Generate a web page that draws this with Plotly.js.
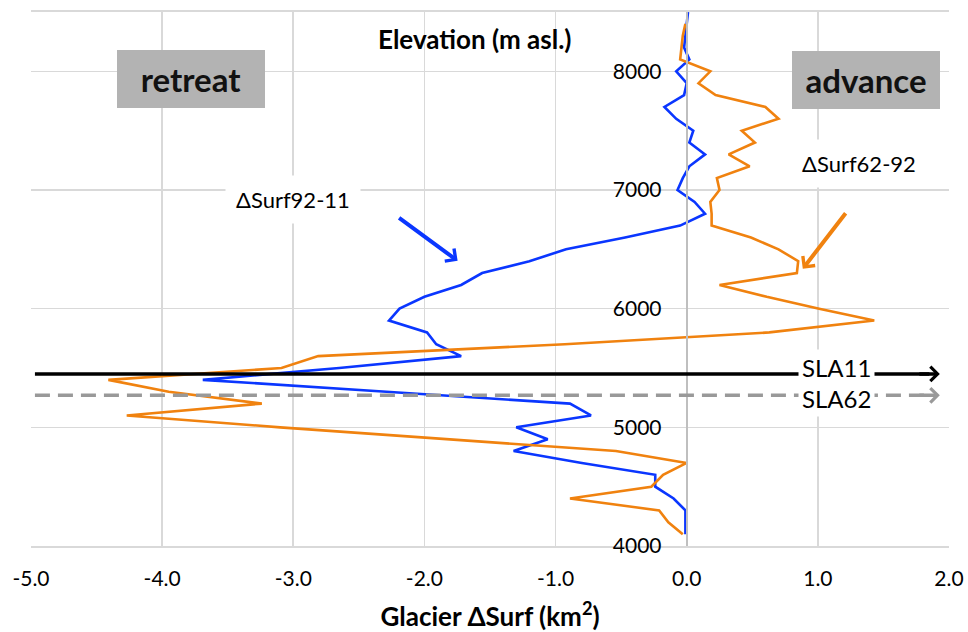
<!DOCTYPE html>
<html>
<head>
<meta charset="utf-8">
<script src="https://cdn.plot.ly/plotly-3.0.1.min.js"></script>
<style>html,body{margin:0;padding:0;background:#fff;}#chart{width:968px;height:632px;}</style>
</head>
<body>
<div id="chart"></div>
<script>
// Elevation bands (m asl.)
const blueElev = [8500,8400,8300,8200,8100,8000,7900,7800,7700,7600,7500,7400,7300,7200,7100,7000,6900,6800,6700,6600,6500,6400,6300,6200,6100,6000,5900,5800,5700,5600,5500,5400,5300,5200,5100,5000,4900,4800,4700,4600,4500,4400,4300,4200,4100];
// ΔSurf92-11 (km²)
const blueSurf = [0.01,0.00,-0.01,-0.02,0.02,-0.08,0.00,-0.02,-0.17,-0.08,0.05,0.02,0.14,0.02,-0.03,-0.07,0.06,0.14,-0.05,-0.47,-0.92,-1.20,-1.56,-1.72,-2.00,-2.19,-2.27,-1.98,-1.91,-1.72,-2.65,-3.69,-2.29,-0.89,-0.73,-1.30,-1.06,-1.32,-0.80,-0.24,-0.24,-0.10,-0.01,-0.01,-0.01];
const orangeElev = [8400,8300,8200,8100,8000,7900,7800,7700,7600,7500,7400,7300,7200,7100,7000,6900,6800,6700,6600,6500,6400,6300,6200,6100,6000,5900,5800,5700,5600,5500,5400,5300,5200,5100,5000,4900,4800,4700,4600,4500,4400,4300,4200,4100];
// ΔSurf62-92 (km²)
const orangeSurf = [-0.01,-0.03,-0.04,-0.05,0.18,0.09,0.22,0.60,0.70,0.42,0.52,0.32,0.48,0.23,0.25,0.18,0.19,0.19,0.49,0.70,0.85,0.84,0.25,0.61,1.01,1.43,0.63,-0.93,-2.81,-3.09,-4.41,-3.95,-3.24,-4.27,-3.10,-1.83,-0.54,0.00,-0.18,-0.27,-0.89,-0.21,-0.14,-0.03];
// Snow line altitudes
const slaNames = ['SLA11','SLA62'];
const slaElev = [5450, 5270];
const xTicks = [-5,-4,-3,-2,-1,0,1,2];
const xTickText = ['-5.0','-4.0','-3.0','-2.0','-1.0','0.0','1.0','2.0'];
const yTicks = [4000,5000,6000,7000,8000];

const FONT = 'Lato, "Open Sans", "DejaVu Sans", sans-serif';
const BLUE = '#0a36ff';
const ORANGE = '#f0820f';

const traces = [
  {x: blueSurf, y: blueElev, type: 'scatter', mode: 'lines', name: 'ΔSurf92-11',
   line: {color: BLUE, width: 2.6}, hoverinfo: 'x+y'},
  {x: orangeSurf, y: orangeElev, type: 'scatter', mode: 'lines', name: 'ΔSurf62-92',
   line: {color: ORANGE, width: 2.6}, hoverinfo: 'x+y'}
];

const xL = -4.97, xR = 1.93;

const shapes = [
  {type: 'line', xref: 'x', yref: 'y', x0: xL, x1: xR - 0.08, y0: slaElev[0], y1: slaElev[0],
   line: {color: '#000000', width: 3.5}},
  {type: 'line', xref: 'x', yref: 'y', x0: xL, x1: xR - 0.08, y0: slaElev[1], y1: slaElev[1],
   line: {color: '#999999', width: 3.5, dash: '15px,8px'}}
];

const annotations = [
  // SLA arrow heads
  {x: xR, y: slaElev[0], xref: 'x', yref: 'y', ax: -22, ay: 0, text: '', showarrow: true,
   arrowhead: 4, arrowsize: 0.8, arrowwidth: 3.5, arrowcolor: '#000000'},
  {x: xR, y: slaElev[1], xref: 'x', yref: 'y', ax: -22, ay: 0, text: '', showarrow: true,
   arrowhead: 4, arrowsize: 0.8, arrowwidth: 3.5, arrowcolor: '#999999'},
  // SLA labels
  {x: 1.14, y: slaElev[0] + 55, xref: 'x', yref: 'y', xanchor: 'center', yanchor: 'middle',
   text: slaNames[0], showarrow: false,
   font: {family: FONT, size: 24, color: '#000'}, bgcolor: '#ffffff', borderpad: 3},
  {x: 1.14, y: slaElev[1] - 25, xref: 'x', yref: 'y', xanchor: 'center', yanchor: 'middle',
   text: slaNames[1], showarrow: false,
   font: {family: FONT, size: 24, color: '#000'}, bgcolor: '#ffffff', borderpad: 3},
  // y axis title
  {x: 0.4837, y: 0.9495, xref: 'paper', yref: 'paper', xanchor: 'center', yanchor: 'middle',
   text: 'Elevation (m asl.)', showarrow: false,
   font: {family: FONT, size: 26, color: '#000', weight: 'bold'}},
  // retreat / advance boxes
  {x: 0.1743, y: 0.8746, xref: 'paper', yref: 'paper', xanchor: 'center', yanchor: 'middle',
   text: 'retreat', showarrow: false,
   font: {family: FONT, size: 33, color: '#111', weight: 'bold'},
   bgcolor: '#b3b3b3', width: 144, height: 54, borderpad: 2, borderwidth: 0},
  {x: 0.9096, y: 0.8728, xref: 'paper', yref: 'paper', xanchor: 'center', yanchor: 'middle',
   text: 'advance', showarrow: false,
   font: {family: FONT, size: 33, color: '#111', weight: 'bold'},
   bgcolor: '#b3b3b3', width: 144, height: 54, borderpad: 2, borderwidth: 0},
  // series labels
  {x: -3.005, y: 6917, xref: 'x', yref: 'y', xanchor: 'center', yanchor: 'middle',
   text: 'ΔSurf92-11', showarrow: false,
   font: {family: FONT, size: 22, color: '#000'}, bgcolor: '#ffffff', borderpad: 10},
  {x: 1.312, y: 7220, xref: 'x', yref: 'y', xanchor: 'center', yanchor: 'middle',
   text: 'ΔSurf62-92', showarrow: false,
   font: {family: FONT, size: 22, color: '#000'}, bgcolor: '#ffffff', borderpad: 10},
  // pointer arrows
  {x: -1.747, y: 6403, xref: 'x', yref: 'y', ax: -60, ay: -44, text: '', showarrow: true,
   arrowhead: 4, arrowsize: 0.75, arrowwidth: 4, arrowcolor: BLUE},
  {x: 0.885, y: 6336, xref: 'x', yref: 'y', ax: 44, ay: -57, text: '', showarrow: true,
   arrowhead: 4, arrowsize: 0.75, arrowwidth: 4, arrowcolor: ORANGE}
];

const layout = {
  width: 968, height: 632,
  margin: {l: 31, r: 19, t: 12, b: 86},
  paper_bgcolor: '#ffffff', plot_bgcolor: '#ffffff',
  showlegend: false,
  font: {family: FONT, size: 21, color: '#000'},
  xaxis: {
    range: [-5, 2], tickvals: xTicks, ticktext: xTickText,
    showgrid: true, gridcolor: '#d9d9d9', gridwidth: 1.6,
    zeroline: false, showline: true, mirror: true, linecolor: '#d9d9d9', linewidth: 1.6,
    ticks: '', ticklabelstandoff: 13,
    tickfont: {family: FONT, size: 21, color: '#000'},
    title: {text: 'Glacier ΔSurf (km<sup>2</sup>)', standoff: 22,
            font: {family: FONT, size: 26, color: '#000', weight: 'bold'}},
    fixedrange: true
  },
  yaxis: {
    range: [4000, 8500], tickvals: yTicks,
    anchor: 'free', position: 5/7, side: 'left',
    showgrid: true, gridcolor: '#d9d9d9', gridwidth: 1.6,
    zeroline: false, showline: true, linecolor: '#bfbfbf', linewidth: 2,
    ticks: '', ticklabelstandoff: 20,
    tickfont: {family: FONT, size: 21, color: '#000'},
    fixedrange: true
  },
  shapes: shapes,
  annotations: annotations
};

Plotly.newPlot('chart', traces, layout, {displayModeBar: false, staticPlot: true});
</script>
</body>
</html>
